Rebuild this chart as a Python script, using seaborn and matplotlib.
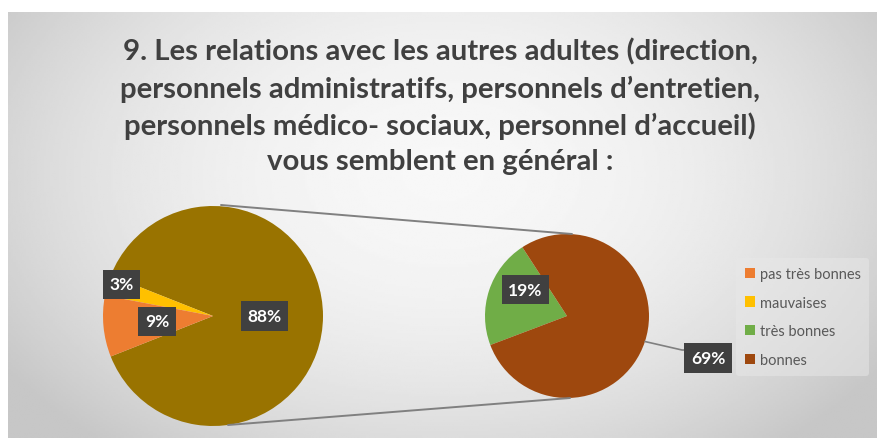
import numpy as np
import matplotlib
matplotlib.use("Agg")
import matplotlib.pyplot as plt
import seaborn as sns
from matplotlib.patches import Patch

# Données
title_lines = ["9. Les relations avec les autres adultes (direction,",
               "personnels administratifs, personnels d\u2019entretien,",
               "personnels médico- sociaux, personnel d\u2019accueil)",
               "vous semblent en général :"]
categories = ["pas très bonnes", "mauvaises", "très bonnes", "bonnes"]
values = [9, 3, 19, 69]
colors = ["#ED7D31", "#FFC000", "#70AD47", "#9E480E"]
other_color = "#997300"

sns.set_theme(style="white")
plt.rcParams['font.family'] = ['Lato', 'DejaVu Sans']

W, H = 878, 439
fig = plt.figure(figsize=(W / 100, H / 100), dpi=100)

# fond gris en dégradé radial
bg = fig.add_axes([8 / W, 0, (W - 8) / W, (H - 13) / H])
yy, xx = np.mgrid[0:1:200j, 0:1:400j]
r2 = ((xx - 0.5) / 0.62) ** 2 + ((yy - 0.38) / 0.85) ** 2
grad = np.clip(0.97 - 0.2 * r2, 0.78, 0.97)
bg.imshow(grad, cmap="gray", vmin=0, vmax=1, aspect="auto", extent=(0, 1, 1, 0))
bg.axis("off")

ax = fig.add_axes([0, 0, 1, 1])
ax.patch.set_alpha(0)

# premier camembert : "autre" + 2 petites catégories
c1, r1 = (213, H - 317), 110
left_vals = [values[2] + values[3], values[1], values[0]]
left_cols = [other_color, colors[1], colors[0]]
start1 = -180 * left_vals[0] / sum(left_vals)
w1, _ = ax.pie(left_vals, colors=left_cols, startangle=start1, center=c1, radius=r1,
               wedgeprops=dict(linewidth=0))

# second camembert : détail de "autre"
c2, r2p = (567, H - 317), 82
right_vals = [values[2], values[3]]
right_cols = [colors[2], colors[3]]
w2, _ = ax.pie(right_vals, colors=right_cols, startangle=123, center=c2, radius=r2p,
               wedgeprops=dict(linewidth=0))

# lignes de liaison
ax.plot([c1[0] + 8, c2[0] + 5], [c1[1] + r1 + 1, c2[1] + r2p], color="#808080", lw=1.4)
ax.plot([c1[0] + 15, c2[0] + 3], [c1[1] - r1 + 1, c2[1] - r2p], color="#808080", lw=1.4)

box = dict(boxstyle="square,pad=0.38", facecolor="#404040", edgecolor="none")
tot = sum(values)

def label(w, center, radius, frac, txt, dang=0):
    ang = np.deg2rad((w.theta1 + w.theta2) / 2 + dang)
    x = center[0] + frac * radius * np.cos(ang)
    y = center[1] + frac * radius * np.sin(ang)
    ax.text(x, y, txt, ha="center", va="center", color="white", fontsize=12.5,
            fontweight="bold", bbox=box)

label(w1[0], c1, r1, 0.47, f"{round(100 * left_vals[0] / tot)}%")
label(w1[1], c1, r1, 0.88, f"{values[1]}%", dang=-3)
label(w1[2], c1, r1, 0.51, f"{values[0]}%")
label(w2[0], c2, r2p, 0.6, f"{values[2]}%", dang=-14)

# étiquette 69% avec ligne de repère
ang = np.deg2rad((w2[1].theta1 + w2[1].theta2) / 2)
ex, ey = c2[0] + r2p * np.cos(ang), c2[1] + r2p * np.sin(ang)
ax.plot([ex, 682, 690], [ey, H - 351, H - 351], color="#808080", lw=1.2)
ax.text(708, H - 359, f"{values[3]}%", ha="center", va="center", color="white",
        fontsize=12.5, fontweight="bold", bbox=box)

ax.set_xlim(0, W)
ax.set_ylim(0, H)
ax.set_aspect("auto")
ax.axis("off")

# titre
ax.text(440, H - 107, "\n".join(title_lines), ha="center", va="center",
        fontsize=21.2, fontweight="bold", color="#404040", linespacing=1.44)

# légende
handles = [Patch(facecolor=c, edgecolor="none") for c in colors]
leg = ax.legend(handles, categories, loc="upper left", bbox_to_anchor=(729 / W, 1 - 252 / H),
                frameon=True, fontsize=10.5, labelcolor="#595959", handlelength=0.7,
                handleheight=0.7, handletextpad=0.3, labelspacing=1.0, borderpad=0.6)
leg.get_frame().set_facecolor("#e8e8e8")
leg.get_frame().set_alpha(0.5)
leg.get_frame().set_edgecolor("none")

fig.savefig("out.png", dpi=100)
